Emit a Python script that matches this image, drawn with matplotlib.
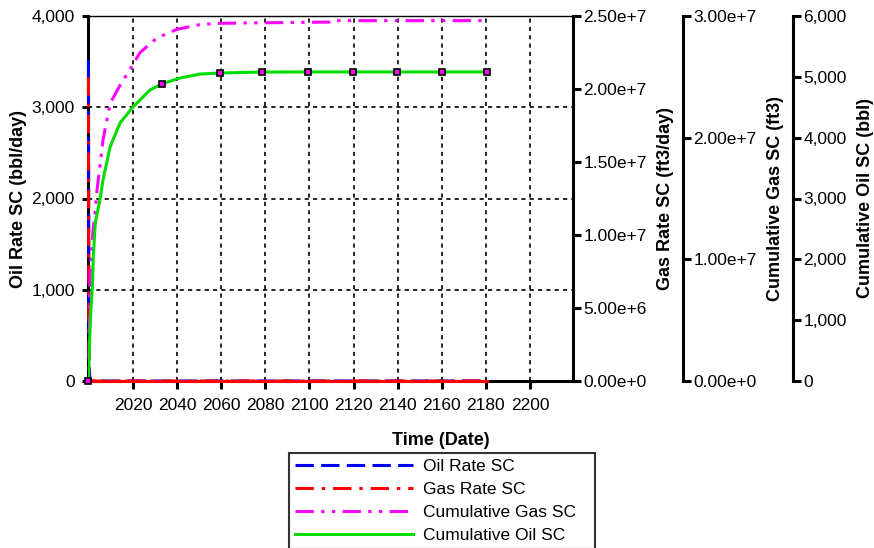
import numpy as np
import matplotlib.pyplot as plt
from matplotlib.ticker import FuncFormatter, MultipleLocator

plt.rcParams['font.family'] = ['Liberation Sans', 'DejaVu Sans']

# time in years
t_rate = [1999.8, 2000.0, 2000.5, 2180.4]
oil_rate = [3520, 200, 0, 0]            # bbl/day
gas_rate = [2.08e7, 1.0e6, 0, 0]        # ft3/day

t_cum_gas = [1999.8, 2000.2, 2000.9, 2001.9, 2002.8, 2003.7, 2006.4, 2009.6, 2014.1,
             2018.6, 2023.2, 2030.9, 2039.9, 2050.4, 2059.4, 2108.9, 2109.8, 2180.4]
cum_gas = [0, 6.7e6, 9.9e6, 1.24e7, 1.38e7, 1.57e7, 1.98e7, 2.28e7, 2.43e7,
           2.56e7, 2.70e7, 2.82e7, 2.89e7, 2.93e7, 2.94e7, 2.95e7, 2.962e7, 2.962e7]

t_cum_oil = [1999.8, 2000.2, 2000.9, 2001.6, 2002.0, 2002.9, 2005.0, 2006.4, 2009.6,
             2014.1, 2020.0, 2027.7, 2033.1, 2041.3, 2050.4, 2059.4, 2078.5,
             2099.3, 2119.7, 2139.7, 2160.0, 2180.4]
cum_oil = [0, 560, 1167, 1545, 2039, 2598, 2976, 3305, 3846,
           4241, 4505, 4784, 4883, 4980, 5046, 5063, 5079,
           5080, 5080, 5080, 5080, 5080]
marker_idx = [0, 12, 15, 16, 17, 18, 19, 20, 21]

x_ticks = [2020, 2040, 2060, 2080, 2100, 2120, 2140, 2160, 2180, 2200]


def sci(v, pos):
    if v == 0:
        return "0.00e+0"
    e = int(np.floor(np.log10(abs(v))))
    return f"{v / 10**e:.2f}e+{e}"


fig = plt.figure(figsize=(8.74, 5.48), dpi=100)
ax = fig.add_axes([88 / 874, 1 - 381 / 548, 485 / 874, 365 / 548])
ax2 = ax.twinx()
ax3 = ax.twinx()
ax4 = ax.twinx()

lw = 2.2
l1, = ax.plot(t_rate, oil_rate, color='#0000ff', lw=lw, ls=(0, (6, 2.4)),
              zorder=3, clip_on=False, label='Oil Rate SC')
l2, = ax2.plot(t_rate, gas_rate, color='#ff0000', lw=lw, ls=(0, (6, 2.6, 1.1, 2.6)),
               clip_on=False, label='Gas Rate SC')
# the flat zero part shows as a continuous red line on top of the axis
ax2.plot(t_rate[2:], gas_rate[2:], color='#ff0000', lw=lw, clip_on=False)
l3, = ax3.plot(t_cum_gas, cum_gas, color='#ff00ff', lw=lw,
               ls=(0, (6, 2.4, 1.1, 2.4, 1.1, 2.4)), label='Cumulative Gas SC')
l4, = ax4.plot(t_cum_oil, cum_oil, color='#00dd00', lw=lw, label='Cumulative Oil SC')
ax4.plot([t_cum_oil[i] for i in marker_idx], [cum_oil[i] for i in marker_idx],
         ls='none', marker='s', ms=5, mfc='#ff00ff', mec='black', mew=1.2, clip_on=False)

# main axes
ax.set_xlim(1999.6, 2219.5)
ax.set_ylim(0, 4000)
ax.set_xticks(x_ticks)
ax.yaxis.set_major_locator(MultipleLocator(1000))
ax.yaxis.set_major_formatter(FuncFormatter(lambda v, p: f"{v:,.0f}"))
ax.grid(True, color='black', ls=(0, (2.5, 2.5)), lw=1.2)
ax.tick_params(axis='x', length=6, width=2.2, pad=6, labelsize=12.5)
ax.tick_params(axis='y', length=4.5, width=2.2, pad=5, labelsize=12.5)
ax.set_ylabel('Oil Rate SC (bbl/day)', fontsize=13, fontweight='bold', labelpad=3)
ax.set_xlabel('Time (Date)', fontsize=13, fontweight='bold')
ax.xaxis.set_label_coords(0.728, -0.14)
ax.spines['left'].set_linewidth(2.2)
ax.spines['bottom'].set_linewidth(2.2)
ax.spines['top'].set_linewidth(1.0)
ax.spines['right'].set_visible(False)

# right axes (offsets in points: 110 px and 220 px)
axes_right = [
    (ax2, 0, (0, 2.5e7), 5e6, sci, 'Gas Rate SC (ft3/day)'),
    (ax3, 79.2, (0, 3e7), 1e7, sci, 'Cumulative Gas SC (ft3)'),
    (ax4, 158.4, (0, 6000), 1000, lambda v, p: f"{v:,.0f}", 'Cumulative Oil SC (bbl)'),
]
for a, off, lim, step, fmt, lab in axes_right:
    for s in ['top', 'left', 'bottom']:
        a.spines[s].set_visible(False)
    a.spines['right'].set_position(('outward', off))
    a.spines['right'].set_linewidth(2.2)
    a.set_ylim(*lim)
    a.yaxis.set_major_locator(MultipleLocator(step))
    a.yaxis.set_major_formatter(FuncFormatter(fmt))
    a.tick_params(axis='y', length=5.5, width=2.2, pad=2, labelsize=12.5)
    a.set_ylabel(lab, fontsize=13, fontweight='bold', labelpad=7)

leg = fig.legend(handles=[l1, l2, l3, l4], loc='upper left',
                 bbox_to_anchor=(289 / 874, 0, 306 / 874, 1 - 453 / 548),
                 mode='expand', borderaxespad=0, fontsize=12.5, handlelength=6.8,
                 handletextpad=0.57, labelspacing=0.44, borderpad=0.35,
                 fancybox=False, framealpha=1)
leg.get_frame().set_edgecolor('#333333')
leg.get_frame().set_linewidth(1.5)

fig.savefig('out.png', dpi=100)
